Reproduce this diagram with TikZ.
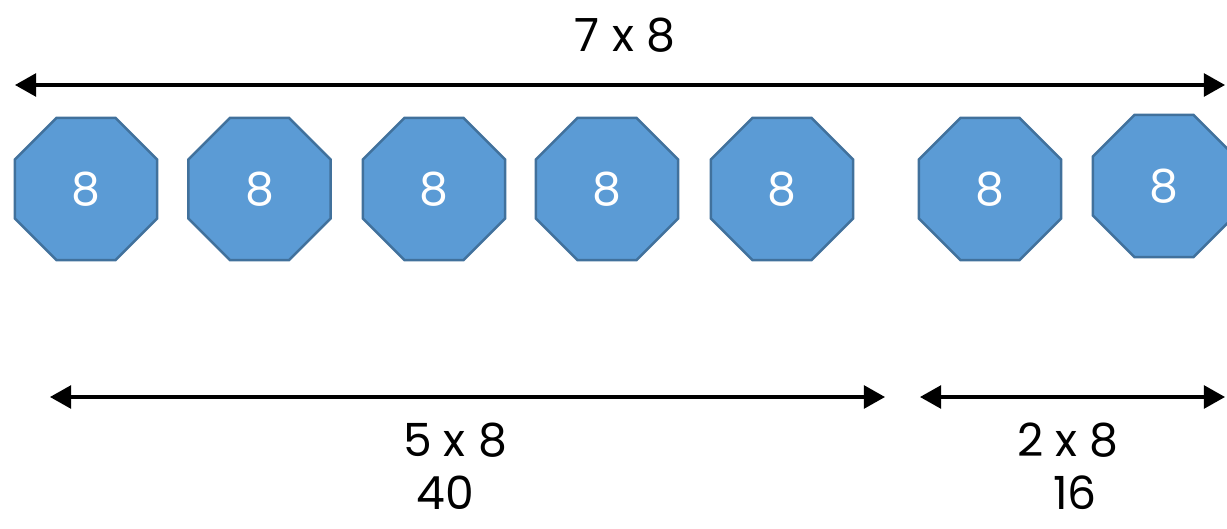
\documentclass[tikz,border=0pt]{standalone}
\usepackage{fontspec}
\setmainfont{Poppins}
\usepackage{xcolor}
\definecolor{octfill}{HTML}{5B9BD5}
\definecolor{octedge}{HTML}{41719C}
\usetikzlibrary{arrows.meta,positioning,shapes.geometric}

\begin{document}
\begin{tikzpicture}[font=\fontsize{13}{15}\selectfont,
  oct/.style={regular polygon,regular polygon sides=8,draw=octedge,fill=octfill,
    line width=0.7pt,inner sep=0pt,minimum size=1.54cm,text=white},
  lbl/.style={inner sep=0.5pt},
  dim/.style={line width=0.9pt,{Triangle[length=6pt,width=6.5pt]}-{Triangle[length=6pt,width=6.5pt]}}]
  \useasboundingbox (0,0) rectangle (12.27,5.28);
  \foreach \i/\x in {1/0.86,2/2.595,3/4.34,4/6.07,5/7.82,6/9.90}
    \node[oct] (o\i) at (\x,3.39) {8};
  \node[oct] (o7) at (11.64,3.42) {8};
  % dimension arrows
  \coordinate (all0) at (0.15,4.43);
  \coordinate (all1) at (12.25,4.43);
  \coordinate (five0) at (0.50,1.31);
  \coordinate (five1) at (8.85,1.31);
  \coordinate (two0) at (9.20,1.31);
  \coordinate (two1) at (12.25,1.31);
  \draw[dim] (all0) -- (all1);
  \draw[dim] (five0) -- (five1);
  \draw[dim] (two0) -- (two1);
  \node[lbl] (lall) at (6.25,4.93) {7 x 8};
  \node[lbl] (lfive) at (4.55,0.88) {5 x 8};
  \node[lbl] (rfive) at (4.45,0.35) {40};
  \node[lbl] (ltwo) at (10.68,0.88) {2 x 8};
  \node[lbl] (rtwo) at (10.75,0.35) {16};
\end{tikzpicture}
\end{document}
